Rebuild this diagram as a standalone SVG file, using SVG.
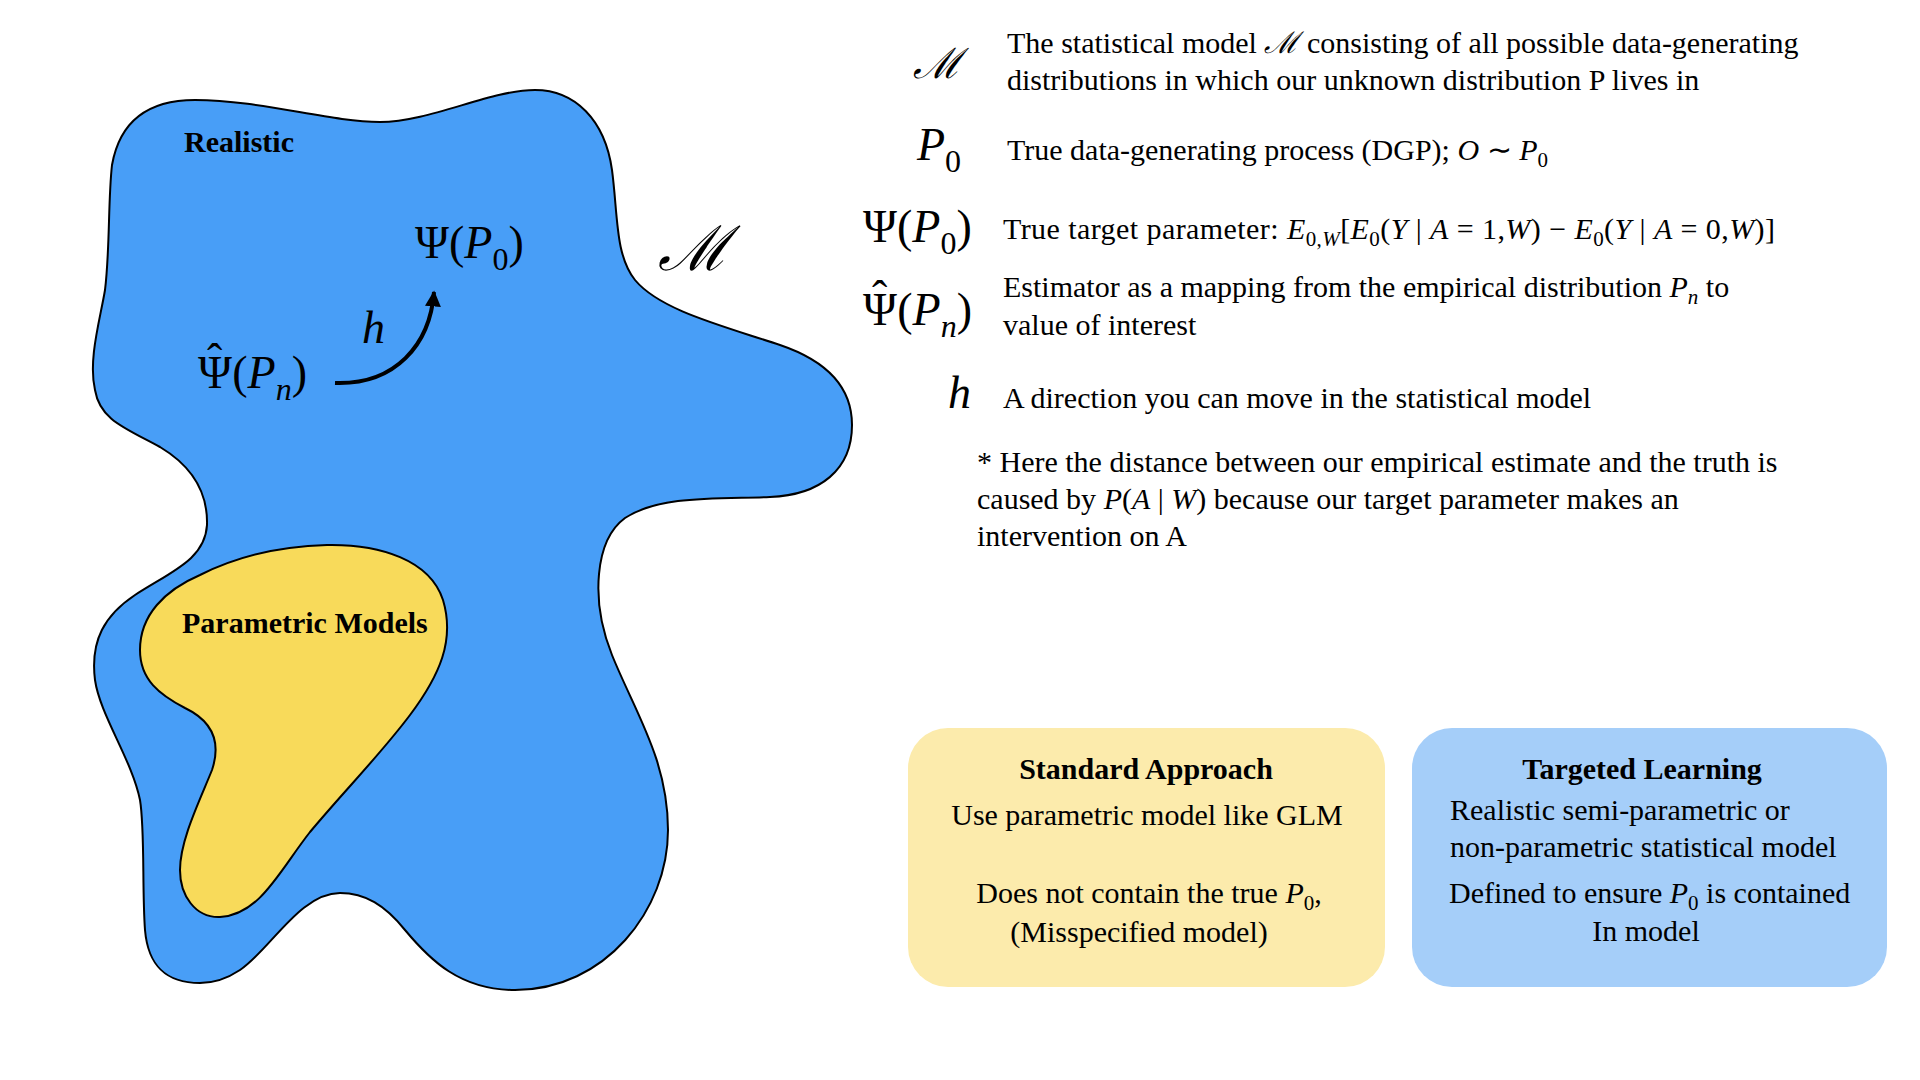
<svg xmlns="http://www.w3.org/2000/svg" width="1920" height="1080" viewBox="0 0 1920 1080">
<defs>
<style>
text{font-family:"Liberation Serif","Times New Roman",serif;fill:#000}
.t{font-size:30px}
.b{font-size:30px;font-weight:bold}
.sym{font-size:46px}
.i{font-style:italic}
.scr{font-family:"DejaVu Serif","Liberation Serif",serif;font-style:italic}
.blob{stroke:#000;stroke-width:2}
.box{stroke:none}
</style>
<marker id="ah" viewBox="0 0 10 10" refX="9" refY="5" markerWidth="4" markerHeight="4" orient="auto" markerUnits="strokeWidth">
<path d="M0,0 L10,5 L0,10 Z" fill="#000"/>
</marker>
</defs>
<rect width="1920" height="1080" fill="#fff"/>

<g id="realistic-model">
<path class="blob" fill="#489EF7" d="M 195,100 C 260,100 330,122 380,122 C 430,122 490,90 535,90 C 575,90 605,120 612,170 C 618,215 615,255 635,280 C 660,310 720,325 780,345 C 830,362 852,390 852,425 C 852,470 820,495 770,497 C 720,499 660,495 625,518 C 595,540 590,600 612,655 C 635,712 668,760 668,830 C 668,910 605,990 515,990 C 460,990 430,960 405,930 C 385,905 365,893 340,893 C 300,893 270,950 240,970 C 225,980 212,983 200,983 C 165,983 148,965 145,930 C 142,890 145,830 140,800 C 132,760 100,715 95,680 C 90,640 105,615 135,595 C 170,572 205,560 207,525 C 208,490 190,465 160,447 C 125,428 100,420 95,390 C 88,360 100,320 105,290 C 110,250 108,200 112,165 C 120,120 150,100 195,100 Z"/>
<text class="b" x="184" y="152">Realistic</text>
</g>

<g id="parametric-models">
<path class="blob" fill="#F8DA5A" d="M 327,545 C 380,544 430,560 443,600 C 455,640 440,675 410,715 C 380,755 345,790 310,832 C 280,870 260,915 220,917 C 195,918 180,895 180,870 C 180,840 200,800 212,770 C 222,740 210,720 185,708 C 160,695 140,680 140,650 C 140,615 165,590 200,575 C 240,555 285,546 327,545 Z"/>
<text class="b" x="182" y="633">Parametric Models</text>
</g>

<g id="model-label">
<text class="scr" x="658" y="270" font-size="62">ℳ</text>
</g>

<g id="psi-p0">
<text class="sym" x="415" y="258">Ψ(<tspan class="i">P</tspan><tspan font-size="32" dy="12">0</tspan><tspan dy="-12">)</tspan></text>
</g>

<g id="psi-hat-pn">
<text class="sym" x="198" y="388">Ψ<tspan dx="-25" dy="-12">ˆ</tspan><tspan dx="10" dy="12">(</tspan><tspan class="i">P</tspan><tspan class="i" font-size="32" dy="12">n</tspan><tspan dy="-12">)</tspan></text>
</g>

<g id="connectors">
<path d="M 335,383 C 395,385 430,345 434,292" fill="none" stroke="#000" stroke-width="4" marker-end="url(#ah)"/>
<text class="sym i" x="362" y="343">h</text>
</g>

<g id="legend-model">
<text class="scr" x="937" y="78" font-size="42" text-anchor="middle">ℳ</text>
<text class="t" x="1007" y="53">The statistical model <tspan class="scr">ℳ</tspan> consisting of all possible data-generating</text>
<text class="t" x="1007" y="90">distributions in which our unknown distribution P lives in</text>
</g>

<g id="legend-p0">
<text class="sym" x="917" y="160"><tspan class="i">P</tspan><tspan font-size="32" dy="12">0</tspan></text>
<text class="t" x="1007" y="160">True data-generating process (DGP); <tspan class="i">O</tspan> ∼ <tspan class="i">P</tspan><tspan font-size="21" dy="7">0</tspan></text>
</g>

<g id="legend-psi">
<text class="sym" x="863" y="242">Ψ(<tspan class="i">P</tspan><tspan font-size="32" dy="12">0</tspan><tspan dy="-12">)</tspan></text>
<text class="t" x="1003" y="239" textLength="772" lengthAdjust="spacing">True target parameter: <tspan class="i">E</tspan><tspan font-size="21" dy="7">0,<tspan class="i">W</tspan></tspan><tspan dy="-7">[</tspan><tspan class="i">E</tspan><tspan font-size="21" dy="7">0</tspan><tspan dy="-7">(</tspan><tspan class="i">Y</tspan> | <tspan class="i">A</tspan> = 1,<tspan class="i">W</tspan>) − <tspan class="i">E</tspan><tspan font-size="21" dy="7">0</tspan><tspan dy="-7">(</tspan><tspan class="i">Y</tspan> | <tspan class="i">A</tspan> = 0,<tspan class="i">W</tspan>)]</text>
</g>

<g id="legend-psi-hat">
<text class="sym" x="863" y="325">Ψ<tspan dx="-25" dy="-12">ˆ</tspan><tspan dx="10" dy="12">(</tspan><tspan class="i">P</tspan><tspan class="i" font-size="32" dy="12">n</tspan><tspan dy="-12">)</tspan></text>
<text class="t" x="1003" y="297">Estimator as a mapping from the empirical distribution <tspan class="i">P</tspan><tspan class="i" font-size="21" dy="7">n</tspan><tspan dy="-7"> to</tspan></text>
<text class="t" x="1003" y="335">value of interest</text>
</g>

<g id="legend-h">
<text class="sym i" x="948" y="408">h</text>
<text class="t" x="1003" y="408">A direction you can move in the statistical model</text>
</g>

<g id="note">
<text class="t" x="977" y="472">* Here the distance between our empirical estimate and the truth is</text>
<text class="t" x="977" y="509">caused by <tspan class="i">P</tspan>(<tspan class="i">A</tspan> | <tspan class="i">W</tspan>) because our target parameter makes an</text>
<text class="t" x="977" y="546">intervention on A</text>
</g>

<g id="standard-approach">
<rect class="box" x="908" y="728" width="477" height="259" rx="40" fill="#FCEBAC"/>
<text class="b" x="1146" y="779" text-anchor="middle">Standard Approach</text>
<text class="t" x="1147" y="825" text-anchor="middle">Use parametric model like GLM</text>
<text class="t" x="1149" y="903" text-anchor="middle">Does not contain the true <tspan class="i">P</tspan><tspan font-size="21" dy="7">0</tspan><tspan dy="-7">,</tspan></text>
<text class="t" x="1139" y="942" text-anchor="middle">(Misspecified model)</text>
</g>

<g id="targeted-learning">
<rect class="box" x="1412" y="728" width="475" height="259" rx="40" fill="#A5CEF9"/>
<text class="b" x="1642" y="779" text-anchor="middle">Targeted Learning</text>
<text class="t" x="1450" y="820">Realistic semi-parametric or</text>
<text class="t" x="1450" y="857">non-parametric statistical model</text>
<text class="t" x="1449" y="903">Defined to ensure <tspan class="i">P</tspan><tspan font-size="21" dy="7">0</tspan><tspan dy="-7"> is contained</tspan></text>
<text class="t" x="1646" y="941" text-anchor="middle">In model</text>
</g>
</svg>
